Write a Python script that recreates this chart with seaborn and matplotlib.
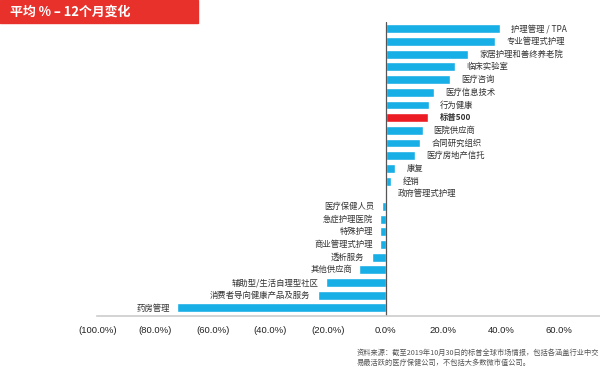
import pandas as pd
import matplotlib.pyplot as plt
import seaborn as sns

sns.set_style("white")
plt.rcParams['font.family'] = ['Noto Sans CJK SC', 'DejaVu Sans']

## данные
categories = ["护理管理 / TPA", "专业管理式护理", "家居护理和善终养老院", "临床实验室", "医疗咨询",
              "医疗信息技术", "行为健康", "标普500", "医院供应商", "合同研究组织",
              "医疗房地产信托", "康复", "经销", "政府管理式护理", "医疗保健人员",
              "急症护理医院", "特殊护理", "商业管理式护理", "透析服务", "其他供应商",
              "辅助型/生活自理型社区", "消费者导向健康产品及服务", "药房管理"]
change = [39.6, 38.0, 28.7, 24.2, 22.4,
          16.8, 14.9, 14.8, 12.8, 12.0,
          10.3, 3.3, 2.0, 0.5, -1.3,
          -1.9, -1.9, -2.0, -4.9, -9.1,
          -20.7, -23.6, -72.2]
benchmark = "标普500"
xticks = [-100, -80, -60, -40, -20, 0, 20, 40, 60]
title = "平均 % – 12个月变化"
source = ("资料来源：截至2019年10月30日的标普全球市场情报，包括各涵盖行业中交\n"
          "易最活跃的医疗保健公司，不包括大多数微市值公司。")

df = pd.DataFrame({"cat": categories, "val": change})
df["grp"] = ["bench" if c == benchmark else "ind" for c in categories]

fig = plt.figure(figsize=(6, 3.77), dpi=100)
ax = fig.add_axes([0.162, 0.162, 0.838, 0.78])

sns.barplot(data=df, x="val", y="cat", hue="grp", orient="h",
            palette={"ind": "#18AEE6", "bench": "#EC1C24"},
            width=0.7, dodge=False, legend=False, saturation=1, ax=ax)

ax.set_xlim(-100, 74.3)
ax.set_ylim(22.63, -0.55)
ax.set_xlabel("")
ax.set_ylabel("")
ax.set_yticks([])
ax.set_xticks(xticks)
ax.set_xticklabels([f"({abs(t):.1f}%)" if t < 0 else f"{t:.1f}%" for t in xticks],
                   fontsize=6.8, family="Liberation Sans", color="#222222")
ax.tick_params(axis="x", length=2, width=0.6, color="#888888", pad=5)

for s in ["top", "right", "left"]:
    ax.spines[s].set_visible(False)
ax.spines["bottom"].set_color("#cccccc")
ax.spines["bottom"].set_linewidth(1.2)
ax.axvline(0, color="#555555", lw=0.9)

## подписи у концов столбцов
for i, (c, v) in enumerate(zip(categories, change)):
    bold = c == benchmark
    if v >= 0:
        ax.annotate(c, (v, i), xytext=(8, 0), textcoords="offset points",
                    ha="left", va="center", fontsize=6, color="#333333",
                    fontweight="bold" if bold else "normal")
    else:
        ax.annotate(c, (v, i), xytext=(-5, 0), textcoords="offset points",
                    ha="right", va="center", fontsize=6, color="#333333")

## заголовок в красной плашке
fig.patches.append(plt.Rectangle((0, 1 - 23 / 377), 198 / 600, 23 / 377,
                                 transform=fig.transFigure, color="#E8312A", zorder=0))
fig.text(10 / 600, 1 - 11.5 / 377, title, color="white", fontsize=9.3,
         fontweight="bold", va="center", ha="left")

fig.text(357 / 600, 1 - 358 / 377, source, fontsize=5.2, color="#555555",
         va="center", ha="left", linespacing=1.3)

fig.savefig("out.png", dpi=100)
